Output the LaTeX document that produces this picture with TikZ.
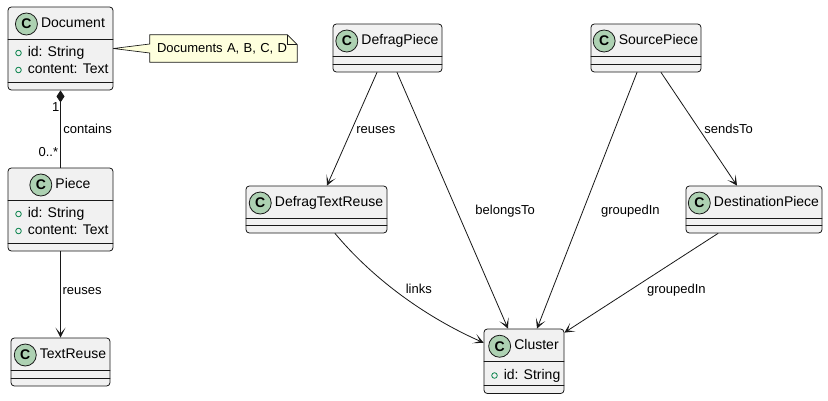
\documentclass[tikz,border=0pt]{standalone}
\usepackage{fontspec}
\setmainfont{Liberation Sans}
\usetikzlibrary{positioning,calc,arrows.meta,backgrounds}

\definecolor{umlline}{HTML}{181818}
\definecolor{classfill}{HTML}{F1F1F1}
\definecolor{iconfill}{HTML}{ADD1B2}
\definecolor{attrgreen}{HTML}{038048}
\definecolor{notefill}{HTML}{FEFFDD}

\tikzset{
  classbox/.style={draw=umlline, fill=classfill, rounded corners=2.5pt,
    line width=0.6pt, inner sep=0pt},
  classline/.style={draw=umlline, line width=0.6pt},
  classname/.style={inner sep=0pt, font=\fontsize{10.5}{12}\selectfont,
    text height=7.6pt, text depth=2.2pt},
  classicon/.style={circle, draw=umlline, fill=iconfill, line width=0.6pt,
    minimum size=16.5pt, inner sep=0pt,
    font=\fontsize{10.5}{12}\selectfont\bfseries},
  attrmark/.style={circle, draw=attrgreen, line width=0.6pt,
    minimum size=4.2pt, inner sep=0pt},
  attrtext/.style={anchor=west, inner sep=0pt,
    font=\fontsize{10.5}{12}\selectfont, text height=7.6pt, text depth=2.2pt},
  notetext/.style={inner xsep=5.25pt, inner ysep=0pt, text width=99.75pt,
    align=left, minimum height=20.25pt, font=\fontsize{9.75}{11}\selectfont},
  notebox/.style={draw=umlline, fill=notefill, line width=0.5pt},
  elabel/.style={inner sep=0pt, font=\fontsize{9.75}{11}\selectfont,
    text height=7pt, text depth=2pt},
  assoc/.style={draw=umlline, line width=0.6pt,
    -{Stealth[length=7.5pt, width=7.5pt, inset=4.5pt]}},
  comp/.style={draw=umlline, line width=0.6pt,
    {Diamond[length=9pt, width=6pt]}-}
}

% #1 name, #2 left, #3 right, #4 top, #5 header line, #6 second line, #7 bottom, #8 title
\newcommand{\umlclass}[8]{%
  \node[classbox, minimum width={(#3-#2)*0.75pt}, minimum height={(#7-#4)*0.75pt}]
    (#1) at ({(#2+#3)/2},{(#4+#7)/2}) {};
  \draw[classline] (#2,#5) -- (#3,#5);
  \draw[classline] (#2,#6) -- (#3,#6);
  \node[classname] (#1-title) at ({(#2+#3)/2+12.5},{(#4+#5)/2+1}) {#8};
  \node[classicon, left=2.25pt of #1-title] (#1-icon) {C};
}

% #1 class, #2 left, #3 header line, #4 attributes
\newcommand{\umlattrs}[4]{%
  \foreach \attr [count=\i] in {#4} {
    \node[attrmark] (#1-mark\i) at ({#2+10.5},{#3+17*\i-3}) {};
    \node[attrtext] (#1-attr\i) at ({#2+19.5},{#3+17*\i-3}) {\attr};
  }
}

\begin{document}
\begin{tikzpicture}[
  x=0.75pt,
  y=-0.75pt,
  line cap=round,
  line join=round
]
  \begin{scope}[on background layer]
    \fill[white] (0,0) rectangle (828,400);
  \end{scope}
  \useasboundingbox (0,0) rectangle (828,400);

  % Klassen links
  \umlclass{doc}{8}{113}{7}{39}{82}{90}{Document}
  \umlattrs{doc}{8}{39}{id: String, content: Text}

  \umlclass{piece}{8}{113}{168}{200}{243}{251}{Piece}
  \umlattrs{piece}{8}{200}{id: String, content: Text}

  \umlclass{textreuse}{11}{110}{338}{370}{378}{386}{TextReuse}

  % Klassen rechts
  \umlclass{dpiece}{333}{442}{24}{56}{64}{72}{DefragPiece}
  \umlclass{dtr}{246}{387}{186}{218}{225.5}{233}{DefragTextReuse}
  \umlclass{spiece}{591}{701}{24}{56}{64}{72}{SourcePiece}
  \umlclass{destpiece}{686}{822}{186}{218}{225.5}{233}{DestinationPiece}

  \umlclass{cluster}{484}{564}{329}{361.5}{385}{393.5}{Cluster}
  \umlattrs{cluster}{484}{361.5}{id: String}

  % Notiz
  \node[notetext] (note) at (223.5,48.5) {Documents A, B, C, D};
  \begin{scope}[on background layer]
    \draw[notebox]
      (note.north west)
      -- ($(note.north east)+(-10,0)$)
      -- ($(note.north east)+(0,10)$)
      -- (note.south east)
      -- (note.south west)
      -- ($(note.west)+(0,4.5)$)
      -- (doc.east)
      -- ($(note.west)+(0,-4.5)$)
      -- cycle;
    \draw[notebox, fill=none]
      ($(note.north east)+(-10,0)$)
      -- ($(note.north east)+(-10,10)$)
      -- ($(note.north east)+(0,10)$);
  \end{scope}

  % Komposition
  \draw[comp] (doc) -- (piece)
    node[elabel, pos=0.23, anchor=east, xshift=-0.5pt] (m-one) {1}
    node[elabel, pos=0.51, anchor=west, xshift=1.9pt] (l-contains) {contains}
    node[elabel, pos=0.81, anchor=east, xshift=-1.5pt] (m-many) {0..*};

  % Assoziationen
  \draw[assoc] (piece) -- (textreuse)
    node[elabel, pos=0.456, anchor=west, xshift=1.3pt] (l-reuses1) {reuses};

  \draw[assoc] ($(dpiece.south)+(-10.5,0)$) -- ($(dtr.north)+(10.5,0)$)
    node[elabel, pos=0.509, anchor=west, xshift=3.3pt] (l-reuses2) {reuses};

  \draw[assoc] ($(dpiece.south)+(9.5,0)$) -- ($(cluster.north)+(-16,0)$)
    node[elabel, pos=0.54, anchor=west, xshift=13.6pt] (l-belongs) {belongsTo};

  \draw[assoc] ($(dtr.south)+(18.5,0)$)
    .. controls +(35,42) and +(-63,-28) .. ($(cluster.west)+(0,-18.5)$)
    node[elabel, pos=0.45, anchor=west, xshift=10.5pt, yshift=-1.9pt] (l-links) {links};

  \draw[assoc] ($(spiece.south)+(-9,0)$) -- ($(cluster.north)+(13,0)$)
    node[elabel, pos=0.54, anchor=west, xshift=13.3pt] (l-grouped1) {groupedIn};

  \draw[assoc] ($(spiece.south)+(15,0)$) -- ($(destpiece.north)+(-17,0)$)
    node[elabel, pos=0.509, anchor=west, xshift=3.2pt] (l-sends) {sendsTo};

  \draw[assoc] ($(destpiece.south)+(-36,0)$) -- ($(cluster.north east)+(0,4)$)
    node[elabel, pos=0.577, anchor=west, xshift=13pt] (l-grouped2) {groupedIn};
\end{tikzpicture}
\end{document}
